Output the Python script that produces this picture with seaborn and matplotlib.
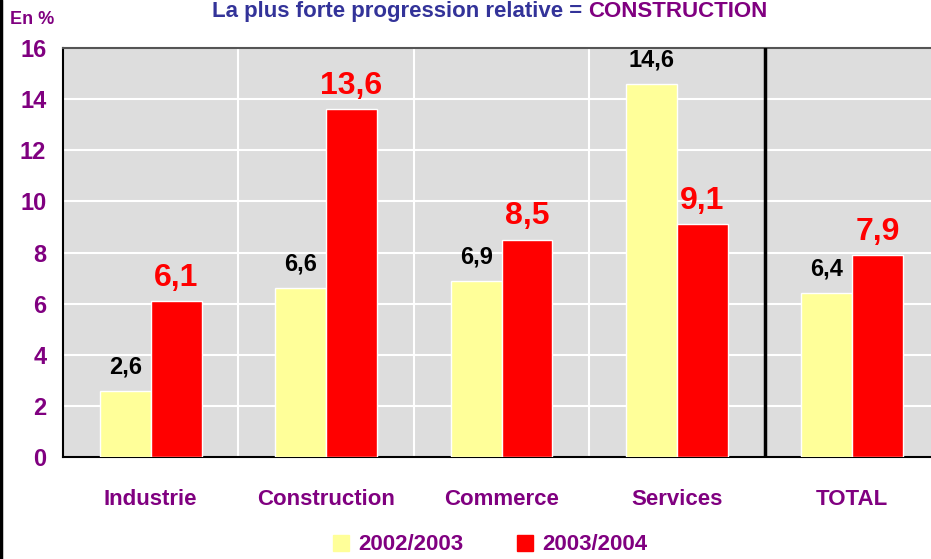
import pandas as pd
import seaborn as sns
import matplotlib.pyplot as plt
from matplotlib.lines import Line2D

# Données
secteurs = ['Industrie', 'Construction', 'Commerce', 'Services', 'TOTAL']
periodes = ['2002/2003', '2003/2004']
val_2002_2003 = [2.6, 6.6, 6.9, 14.6, 6.4]
val_2003_2004 = [6.1, 13.6, 8.5, 9.1, 7.9]

df = pd.DataFrame({
    'secteur': secteurs * 2,
    'periode': [periodes[0]] * 5 + [periodes[1]] * 5,
    'valeur': val_2002_2003 + val_2003_2004,
})

sns.set_style('white')
plt.rcParams['font.family'] = ['Liberation Sans Narrow', 'Liberation Sans', 'DejaVu Sans']
plt.rcParams['font.weight'] = 'bold'

violet = '#800080'
couleurs = {'2002/2003': '#FFFF99', '2003/2004': '#FF0000'}

fig = plt.figure(figsize=(9.31, 5.59), dpi=100)
ax = fig.add_axes([63 / 931, 1 - 457 / 559, 877 / 931, 409 / 559])
ax.set_facecolor('#DDDDDD')

sns.barplot(data=df, x='secteur', y='valeur', hue='periode', palette=couleurs,
            width=0.58, saturation=1, ax=ax, legend=False, zorder=3)

# étiquettes des valeurs
ax.bar_label(ax.containers[0], labels=[f'{v:.1f}'.replace('.', ',') for v in val_2002_2003],
             padding=9, fontsize=17, fontweight='bold', color='black')
ax.bar_label(ax.containers[1], labels=[f'{v:.1f}'.replace('.', ',') for v in val_2003_2004],
             padding=6, fontsize=23, fontweight='bold', color='#FF0000')

ax.set_xlim(-0.5, 4.5)
ax.set_ylim(0, 16)
ax.set_yticks(range(0, 17, 2))
ax.set_xticks([0.5, 1.5, 2.5, 3.5], minor=True)
ax.grid(True, axis='y', color='white', lw=1.5, zorder=0)
ax.grid(True, axis='x', which='minor', color='white', lw=1.5, zorder=0)
ax.axvline(3.5, color='black', lw=2.5, zorder=4)

ax.tick_params(axis='y', length=0, pad=12, labelsize=17, labelcolor=violet)
ax.tick_params(axis='x', which='major', length=0, pad=23, labelsize=16, labelcolor=violet)
ax.tick_params(axis='x', which='minor', direction='in', length=6, color='black')
for lab in ax.get_xticklabels() + ax.get_yticklabels():
    lab.set_fontweight('bold')
ax.set_xlabel('')
ax.set_ylabel('')

for s in ['left', 'bottom']:
    ax.spines[s].set_color('black')
    ax.spines[s].set_linewidth(1.5)
ax.spines['top'].set_color('#555555')
ax.spines['top'].set_linewidth(1.5)

# titre en haut
fig.text(588 / 931, 1 - 1 / 559, 'La plus forte progression relative = ', ha='right',
         va='top', fontsize=16, fontweight='bold', color='#333399')
fig.text(588 / 931, 1 - 1 / 559, 'CONSTRUCTION', ha='left',
         va='top', fontsize=16, fontweight='bold', color=violet)
fig.text(10 / 931, 1 - 19 / 559, 'En %', ha='left', va='center',
         fontsize=13, fontweight='bold', color=violet)

# bord gauche
fig.add_artist(Line2D([1 / 931, 1 / 931], [0, 1], color='black', lw=2.5))

# légende
poignees = [plt.Rectangle((0, 0), 1, 1, color=couleurs[p]) for p in periodes]
fig.legend(poignees, periodes, loc='center', bbox_to_anchor=(490 / 931, 1 - 545 / 559),
           ncol=2, frameon=False, handlelength=0.75, handleheight=0.75,
           handletextpad=0.4, columnspacing=2.4, labelcolor=violet,
           prop={'weight': 'bold', 'size': 16})

fig.savefig('out.png', dpi=100)
